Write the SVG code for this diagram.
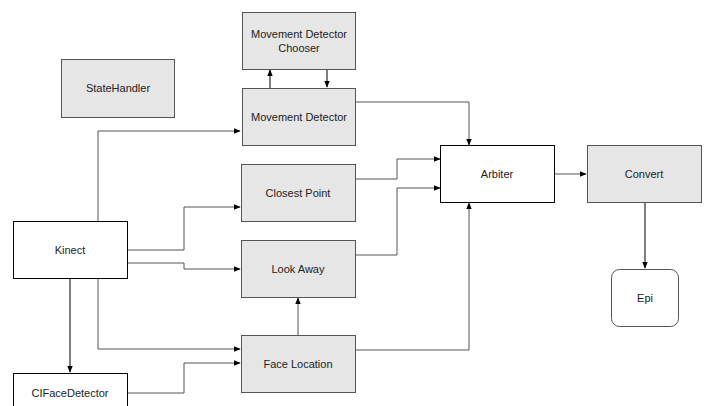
<svg xmlns="http://www.w3.org/2000/svg" width="711" height="406" viewBox="0 0 711 406">
<style>
.g{fill:#e6e6e6;stroke:#555;stroke-width:1}
.w{fill:#fff;stroke:#000;stroke-width:1}
.r{fill:#fff;stroke:#555;stroke-width:1}
text{font-family:"Liberation Sans",Arial,sans-serif;font-size:11px;fill:#222;text-anchor:middle}
.c path{fill:none;stroke:#555;stroke-width:1}
.c path.k{stroke:#000}
</style>
<defs>
<marker id="a" viewBox="0 0 10 10" refX="9" refY="5" markerWidth="7" markerHeight="7" orient="auto" markerUnits="userSpaceOnUse">
<path d="M0,1 L10,5 L0,9 z" fill="#000"/>
</marker>
</defs>
<rect width="711" height="406" fill="#fff"/>
<g class="c">
<path class="k" d="M270,88 V70" marker-end="url(#a)"/>
<path class="k" d="M327,69 V87" marker-end="url(#a)"/>
<path d="M98,222 V131 H240" marker-end="url(#a)"/>
<path d="M127,250 H184 V207 H240" marker-end="url(#a)"/>
<path d="M127,263 H184 V269 H240" marker-end="url(#a)"/>
<path d="M98,278 V349 H240" marker-end="url(#a)"/>
<path class="k" d="M70,278 V372" marker-end="url(#a)"/>
<path d="M127,393 H184 V363 H240" marker-end="url(#a)"/>
<path d="M298,335 V298" marker-end="url(#a)"/>
<path d="M356,102 H469 V145" marker-end="url(#a)"/>
<path d="M356,179 H397 V159 H440" marker-end="url(#a)"/>
<path d="M356,255 H397 V188 H440" marker-end="url(#a)"/>
<path d="M356,350 H469 V203" marker-end="url(#a)"/>
<path d="M555,174 H586" marker-end="url(#a)"/>
<path class="k" d="M645,202 V268" marker-end="url(#a)"/>
</g>
<g id="statehandler"><rect class="g" x="61.5" y="59.5" width="113" height="58"/><text x="118" y="92">StateHandler</text></g>
<g id="chooser"><rect class="g" x="242.5" y="12.5" width="113" height="57"/><text x="299" y="38">Movement Detector</text><text x="299" y="52">Chooser</text></g>
<g id="movement"><rect class="g" x="242.5" y="88.5" width="113" height="57"/><text x="299" y="120.5">Movement Detector</text></g>
<g id="closest"><rect class="g" x="241.5" y="164.5" width="114" height="57"/><text x="298" y="197">Closest Point</text></g>
<g id="lookaway"><rect class="g" x="241.5" y="240.5" width="114" height="57"/><text x="298" y="273">Look Away</text></g>
<g id="facelocation"><rect class="g" x="241.5" y="335.5" width="114" height="57"/><text x="298" y="368">Face Location</text></g>
<g id="kinect"><rect class="w" x="13.5" y="221.5" width="114" height="57"/><text x="70" y="254">Kinect</text></g>
<g id="cifacedetector"><rect class="w" x="13.5" y="373.5" width="114" height="57"/><text x="70" y="397">CIFaceDetector</text></g>
<g id="arbiter"><rect class="w" x="440.5" y="145.5" width="114" height="57"/><text x="497" y="178">Arbiter</text></g>
<g id="convert"><rect class="g" x="587.5" y="145.5" width="114" height="57"/><text x="644" y="178">Convert</text></g>
<g id="epi"><rect class="r" x="611.5" y="269.5" width="67" height="57" rx="8"/><text x="645" y="302">Epi</text></g>
</svg>
